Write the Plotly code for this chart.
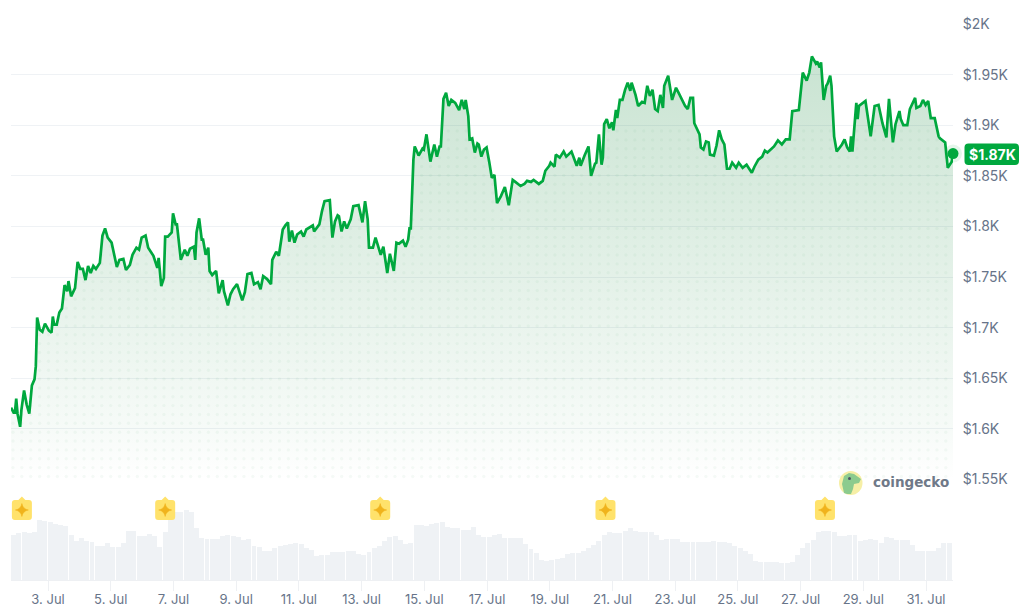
import numpy as np
import pandas as pd
import plotly.graph_objects as go

START = pd.Timestamp("2024-07-01 19:40")

hours = [0,2,3,4,5,7,8,10,12,14,16,18,19,20,22,24,26,29,31,32,33,35,37,39,41,43,44,46,49,51,53,55,57,59,61,63,65,68,70,72,74,77,81,83,86,88,91,93,96,98,100,103,105,109,112,113,115,117,118,120,123,124,126,127,130,133,135,137,140,141,142,144,146,147,149,151,152,154,157,159,162,163,166,168,170,173,177,179,181,184,186,189,191,193,196,199,200,203,205,208,210,212,213,215,217,219,222,224,226,231,232,236,238,240,244,246,248,250,
 251,253,255,257,260,262,266,269,271,273,274,277,279,283,285,286,288,290,293,295,297,300,302,304,305,306,308,309,312,315,316,318,321,324,326,328,329,331,333,335,337,340,343,345,347,348,350,351,353,355,357,358,360,362,364,366,368,370,372,375,378,381,384,386,390,393,395,398,400,404,407,409,412,413,416,417,420,423,425,429,433,435,436,439,442,444,447,448,450,452,453,454,456,458,460,461,463,464,466,468,470,472,474,475,478,480,483,485,487,489,491,493,495,497,499,500,503,506,509,
 511,514,516,518,520,522,523,527,528,530,532,534,535,538,540,542,544,546,548,550,552,555,557,560,563,567,569,572,575,577,579,584,587,590,593,596,598,603,606,609,611,613,616,617,619,620,622,624,625,627,628,630,632,636,638,640,642,643,644,647,648,649,652,654,658,661,664,667,670,672,675,677,680,681,683,686,688,692,693,696,698,700,702,704,707,710,711,715,717,720,721]
prices = [1621,1616,1616,1630,1615,1602,1619,1638,1624,1615,1643,1649,1662,1710,1698,1696,1704,1697,1695,1711,1703,1703,1715,1719,1742,1736,1746,1731,1739,1765,1758,1758,1747,1761,1754,1761,1758,1764,1791,1798,1789,1784,1760,1767,1768,1757,1762,1772,1779,1777,1789,1791,1779,1771,1759,1769,1741,1749,1790,1790,1794,1813,1802,1802,1767,1777,1771,1778,1780,1767,1794,1808,1787,1787,1772,1779,1756,1752,1756,1734,1747,1736,1722,1733,1738,1743,1727,1735,1753,1754,1743,1745,1738,1751,1748,1743,1767,1775,1771,1797,1801,1804,1785,1796,1784,1792,1795,1790,1797,1801,1795,1802,1815,1825,1826,1789,1805,1811,
 1810,1795,1805,1798,1807,1820,1821,1804,1825,1807,1779,1779,1789,1772,1780,1770,1754,1773,1756,1784,1783,1786,1780,1787,1798,1798,1866,1879,1870,1877,1876,1891,1864,1881,1869,1879,1879,1926,1932,1919,1925,1922,1915,1925,1916,1925,1909,1886,1887,1873,1882,1881,1869,1876,1878,1864,1848,1851,1823,1830,1839,1821,1846,1844,1840,1842,1845,1844,1846,1842,1845,1855,1860,1863,1859,1871,1868,1874,1869,1874,1860,1868,1860,1870,1879,1850,1862,1863,1891,1861,1868,1901,1906,1897,1903,1895,1915,1907,1925,1925,1935,1942,1934,1942,1930,1919,1923,1922,1939,1929,1935,1916,1914,1930,1917,1939,1949,1925,1937,
 1932,1925,1919,1916,1927,1927,1902,1891,1878,1876,1884,1883,1871,1870,1880,1895,1886,1881,1857,1857,1863,1858,1863,1858,1861,1853,1859,1866,1869,1875,1873,1879,1885,1881,1886,1886,1914,1915,1952,1944,1952,1968,1961,1963,1957,1962,1925,1939,1941,1949,1939,1889,1874,1881,1886,1878,1874,1889,1874,1922,1906,1919,1922,1924,1889,1919,1920,1902,1888,1926,1883,1901,1914,1906,1900,1900,1916,1927,1917,1919,1925,1920,1924,1907,1907,1889,1887,1883,1858,1864,1872]

volume = [135,142,145,142,145,180,178,175,168,165,162,135,118,125,117,115,102,102,110,100,98,110,148,148,132,132,138,132,98,145,190,205,205,210,205,155,127,122,123,122,132,135,132,128,120,122,102,98,88,88,96,102,106,108,110,108,96,90,72,75,75,85,85,
 85,88,87,77,75,85,96,102,118,128,132,120,108,112,165,165,163,167,172,175,160,155,157,150,150,160,135,128,128,135,138,125,125,127,125,108,92,82,60,58,60,62,65,78,80,80,88,95,105,117,135,143,140,142,148,155,148,143,143,143,135,120,124,123,
 122,114,114,115,114,114,115,118,115,113,110,102,95,88,78,57,54,53,54,53,52,52,55,75,95,110,120,143,146,146,145,132,133,135,135,118,120,122,120,112,128,125,120,120,120,105,88,87,87,88,95,110,110]

price_ticks = [1550,1600,1650,1700,1750,1800,1850,1900,1950,2000]
price_labels = ["$1.55K","$1.6K","$1.65K","$1.7K","$1.75K","$1.8K","$1.85K","$1.9K","$1.95K","$2K"]
tick_days = [3,5,7,9,11,13,15,17,19,21,23,25,27,29,31]
event_times = ["2024-07-02 04:00","2024-07-06 17:40","2024-07-13 14:15","2024-07-20 18:40","2024-07-27 18:40"]

GREEN = "#00a83e"
TEXT = "#677489"
W, H = 1024, 611
PLOT_LEFT, PLOT_RIGHT, PLOT_BOTTOM = 11, 953, 580

times = START + pd.to_timedelta(hours, unit="h")
vol_times = START + pd.to_timedelta(np.arange(len(volume)) * 4 + 2, unit="h")

fig = go.Figure()

fig.add_trace(go.Bar(x=vol_times, y=volume, yaxis="y2", marker=dict(color="#eff2f5", line_width=0),
                     width=3.8 * 3600 * 1000, hoverinfo="skip", showlegend=False))

gx, gy = [], []
hour_grid = np.arange(1.5, 720, 6.8)
for p in np.arange(1553, 1895, 8.75):
    for h in hour_grid:
        if p < np.interp(h, hours, prices) - 4:
            gx.append(START + pd.Timedelta(hours=float(h)))
            gy.append(float(p))
fig.add_trace(go.Scatter(x=gx, y=gy, mode="markers", hoverinfo="skip", showlegend=False,
                         marker=dict(size=3.4, color="rgba(0,130,50,0.04)", line_width=0)))

fig.add_trace(go.Scatter(
    x=times, y=prices, mode="lines", showlegend=False,
    line=dict(color=GREEN, width=2.7, shape="linear"),
    fill="tozeroy",
    fillgradient=dict(type="vertical", start=1550, stop=1965,
                      colorscale=[[0, "rgba(10,130,50,0.0)"], [0.12, "rgba(10,130,50,0.035)"],
                                  [1, "rgba(10,130,50,0.22)"]]),
))

fig.add_trace(go.Scatter(x=[times[-1]], y=[prices[-1]], mode="markers", cliponaxis=False, showlegend=False,
                         marker=dict(size=18, color="rgba(0,168,62,0.10)", line_width=0), hoverinfo="skip"))
fig.add_trace(go.Scatter(x=[times[-1]], y=[prices[-1]], mode="markers", cliponaxis=False, showlegend=False,
                         marker=dict(size=11, color=GREEN, line_width=0), hoverinfo="skip"))

def px(x): return x / W
def py(y): return 1 - y / H

shapes = []
for t in event_times:
    shapes.append(dict(type="path", xref="x", yref="paper", xsizemode="pixel", ysizemode="pixel",
                       xanchor=t, yanchor=py(510),
                       path="M -7 10 L -3.5 10 L 0 13.5 L 3.5 10 L 7 10 Q 10 10 10 7 L 10 -7 Q 10 -10 7 -10 L -7 -10 Q -10 -10 -10 -7 L -10 7 Q -10 10 -7 10 Z",
                       fillcolor="#ffe26b", line_width=0, layer="above"))
    shapes.append(dict(type="path", xref="x", yref="paper", xsizemode="pixel", ysizemode="pixel",
                       xanchor=t, yanchor=py(510),
                       path="M 0 6.5 Q 1 1 6.5 0 Q 1 -1 0 -6.5 Q -1 -1 -6.5 0 Q -1 1 0 6.5 Z",
                       fillcolor="#f0b31c", line=dict(color="#f0b31c", width=0.5), layer="above"))

def rr(x0, y0, x1, y1, r):
    X0, X1 = px(x0), px(x1)
    Y0, Y1 = py(y0), py(y1)
    rx, ry = r / W, r / H
    return (f"M {X0+rx} {Y0} L {X1-rx} {Y0} Q {X1} {Y0} {X1} {Y0-ry} L {X1} {Y1+ry} Q {X1} {Y1} {X1-rx} {Y1} "
            f"L {X0+rx} {Y1} Q {X0} {Y1} {X0} {Y1+ry} L {X0} {Y0-ry} Q {X0} {Y0} {X0+rx} {Y0} Z")
shapes.append(dict(type="path", xref="paper", yref="paper", path=rr(964.5, 143.5, 1019, 165, 4),
                   fillcolor=GREEN, line_width=0, layer="below"))

shapes.append(dict(type="circle", xref="paper", yref="paper", x0=px(839), x1=px(862.5), y0=py(495), y1=py(471),
                   fillcolor="#f6efa6", line_width=0, layer="above"))
def gpath(points):
    return "M " + " L ".join(f"{px(a)} {py(b)}" for a, b in points) + " Z"
shapes.append(dict(type="path", xref="paper", yref="paper",
                   path=gpath([(844,493),(842,484),(844,476),(849,473),(854,474),(861,479),(859,483),(854,484),(853,489),(851,494),(847,494)]),
                   fillcolor="#8ccb8e", line_width=0, layer="above"))
shapes.append(dict(type="circle", xref="paper", yref="paper", x0=px(848), x1=px(851), y0=py(480), y1=py(477),
                   fillcolor="#4b5563", line_width=0, layer="above"))

annotations = [
    dict(text="<b>$1.87K</b>", x=px(992), y=py(154.5), xref="paper", yref="paper", showarrow=False,
         xanchor="center", yanchor="middle",
         font=dict(family="Inter", size=14, color="white")),
    dict(text="<b>coingecko</b>", x=px(871), y=py(482), xref="paper", yref="paper", showarrow=False,
         xanchor="left", yanchor="middle",
         font=dict(family="DejaVu Sans", size=13.5, color="#6f7988")),
]

fig.update_layout(
    width=W, height=H, margin=dict(l=0, r=0, t=0, b=0, autoexpand=False),
    paper_bgcolor="white", plot_bgcolor="rgba(0,0,0,0)", showlegend=False,
    font=dict(family="Inter", color=TEXT), bargap=0,
    shapes=shapes, annotations=annotations,
    xaxis=dict(type="date", anchor="y2", domain=[PLOT_LEFT / W, PLOT_RIGHT / W],
               range=[START, START + pd.Timedelta(hours=721)],
               tickvals=[f"2024-07-{d:02d}" for d in tick_days],
               ticktext=[f"{d}. Jul" for d in tick_days],
               ticks="outside", ticklen=10, tickcolor="#eef0f3", tickwidth=1, ticklabelstandoff=-3,
               showgrid=False, showline=True, linecolor="#eef0f3", linewidth=1, zeroline=False,
               tickfont=dict(family="Inter", size=13, color=TEXT)),
    yaxis=dict(domain=[py(479.5), py(24)],
               range=[1550, 2000], side="right", anchor="x",
               tickvals=price_ticks, ticktext=price_labels,
               ticks="outside", ticklen=6, tickcolor="rgba(0,0,0,0)",
               showgrid=True, gridcolor="#eff2f5", gridwidth=1, zeroline=False, showline=False,
               tickfont=dict(family="Inter", size=14, color=TEXT)),
    yaxis2=dict(domain=[py(PLOT_BOTTOM), py(480)], range=[0, 300], anchor="x", showgrid=False, zeroline=False,
                showticklabels=False, ticks="", showline=False),
)

fig.write_html("out.html", config={"displayModeBar": False},
               post_script="document.body.style.margin='0';")
